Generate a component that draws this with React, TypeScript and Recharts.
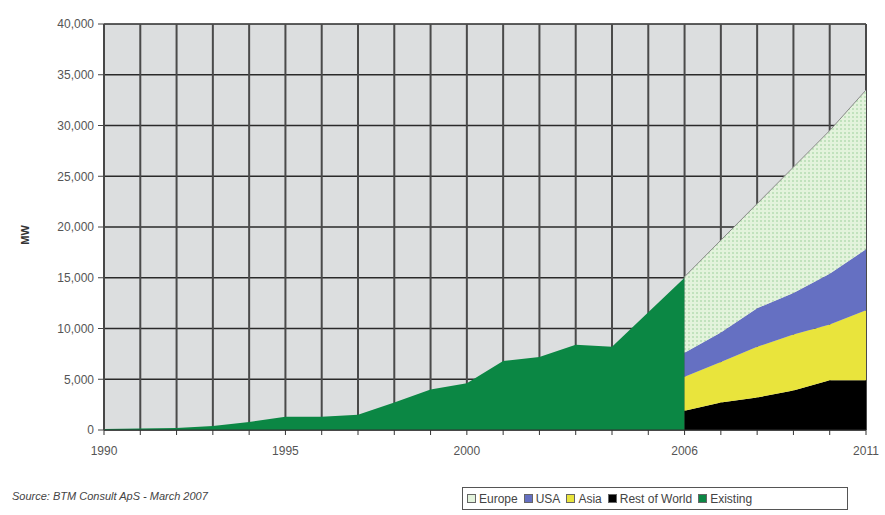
import React from 'react';
import { AreaChart, Area, XAxis, YAxis, CartesianGrid } from 'recharts';

const years = [1990, 1991, 1992, 1993, 1994, 1995, 1996, 1997, 1998, 1999, 2000, 2001, 2002, 2003, 2004, 2005, 2006, 2007, 2008, 2009, 2010, 2011];
const existing: (number | null)[] = [100, 150, 200, 400, 800, 1300, 1300, 1500, 2700, 4000, 4600, 6800, 7200, 8400, 8200, 11600, 15000, null, null, null, null, null];
const forecastYears = [2006, 2007, 2008, 2009, 2010, 2011];
const restOfWorld = [1900, 2700, 3200, 3900, 4900, 4900];
const asia = [3350, 4000, 5000, 5500, 5500, 6900];
const usa = [2350, 2900, 3800, 4100, 5000, 6000];
const europe = [7500, 9100, 10300, 12400, 14100, 15700];
const xLabels = [1990, 1995, 2000, 2006, 2011];
const yTicks = [0, 5000, 10000, 15000, 20000, 25000, 30000, 35000, 40000];
const legendItems = [
  { name: 'Europe', key: 'europe' },
  { name: 'USA', key: 'usa' },
  { name: 'Asia', key: 'asia' },
  { name: 'Rest of World', key: 'row' },
  { name: 'Existing', key: 'existing' },
];

const colors: Record<string, string> = {
  europe: '#e3f3dc',
  usa: '#6570c2',
  asia: '#e9e43c',
  row: '#000000',
  existing: '#0b8744',
};

const data = years.map((y, i) => {
  const fi = forecastYears.indexOf(y);
  return {
    year: y,
    existing: existing[i],
    row: fi >= 0 ? restOfWorld[fi] : null,
    asia: fi >= 0 ? asia[fi] : null,
    usa: fi >= 0 ? usa[fi] : null,
    europe: fi >= 0 ? europe[fi] : null,
  };
});

const font = 'Arial, "Liberation Sans", sans-serif';

export default function App() {
  return (
    <div style={{ position: 'absolute', left: 0, top: 0, width: 885, height: 515, background: '#fff', fontFamily: font }}>
      <AreaChart width={885} height={515} data={data} margin={{ top: 24, right: 19, bottom: 55, left: 0 }}>
        <defs>
          <pattern id="dots" width="4" height="4" patternUnits="userSpaceOnUse">
            <rect width="4" height="4" fill="#e3f3dc" />
            <circle cx="1" cy="1" r="0.7" fill="#86c486" />
          </pattern>
        </defs>
        <CartesianGrid vertical={false} stroke="#2a2a2a" strokeWidth={1.5} fill="#dcdedf" fillOpacity={1} />
        <CartesianGrid horizontal={false} stroke="#4a4a4a" strokeWidth={2} />
        <XAxis
          dataKey="year"
          type="number"
          domain={[1990, 2011]}
          ticks={years}
          interval={0}
          tickFormatter={(v: number) => (xLabels.includes(v) ? String(v) : '')}
          tick={{ fontSize: 12, fill: '#555', fontFamily: font }}
          tickSize={5}
          tickMargin={11}
          stroke="#333"
          height={30}
        />
        <YAxis
          type="number"
          domain={[0, 40000]}
          ticks={yTicks}
          interval={0}
          tickFormatter={(v: number) => v.toLocaleString('en-US')}
          tick={{ fontSize: 12, fill: '#555', fontFamily: font }}
          tickSize={6}
          tickMargin={4}
          stroke="#444"
          width={104}
        />
        <Area type="linear" dataKey="existing" stackId="a" stroke="none" fill={colors.existing} fillOpacity={1} isAnimationActive={false} connectNulls={false} />
        <Area type="linear" dataKey="row" stackId="b" stroke="none" fill={colors.row} fillOpacity={1} isAnimationActive={false} />
        <Area type="linear" dataKey="asia" stackId="b" stroke="none" fill={colors.asia} fillOpacity={1} isAnimationActive={false} />
        <Area type="linear" dataKey="usa" stackId="b" stroke="none" fill={colors.usa} fillOpacity={1} isAnimationActive={false} />
        <Area type="linear" dataKey="europe" stackId="b" stroke="#8a8a8a" strokeWidth={1} fill="url(#dots)" fillOpacity={1} isAnimationActive={false} />
      </AreaChart>
      <div style={{ position: 'absolute', left: 25, top: 235, transform: 'translate(-50%, -50%) rotate(-90deg)', fontSize: 11, fontWeight: 'bold', color: '#333' }}>
        MW
      </div>
      <div style={{ position: 'absolute', left: 12, top: 490, fontSize: 11, fontStyle: 'italic', color: '#444' }}>
        Source: BTM Consult ApS - March 2007
      </div>
      <div style={{ position: 'absolute', left: 462, top: 487, width: 386, height: 23, border: '1px solid #555', boxSizing: 'border-box', display: 'flex', alignItems: 'center', paddingLeft: 4, fontSize: 12, color: '#444' }}>
        {legendItems.map((it) => (
          <span key={it.key} style={{ display: 'flex', alignItems: 'center', marginRight: 6 }}>
            <span style={{ display: 'inline-block', width: 7, height: 7, border: '1px solid #666', background: colors[it.key], marginRight: 3 }} />
            {it.name}
          </span>
        ))}
      </div>
    </div>
  );
}
